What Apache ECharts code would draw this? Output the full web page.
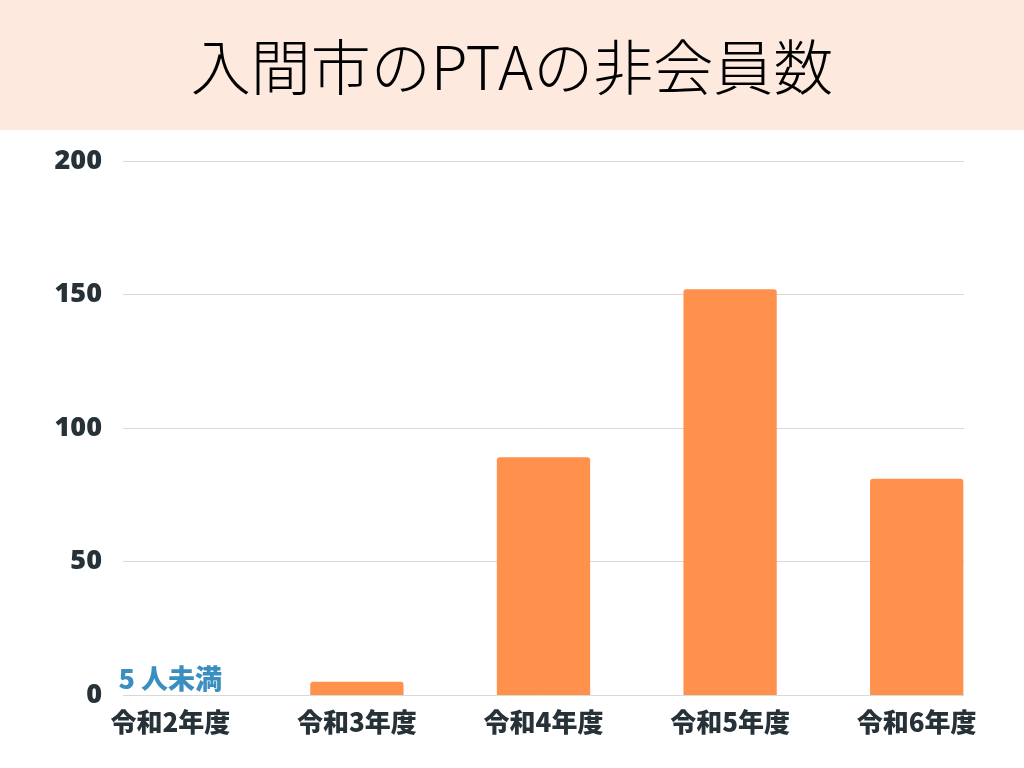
<!DOCTYPE html>
<html>
<head>
<meta charset="utf-8">
<title>入間市のPTAの非会員数</title>
<script src="https://cdn.jsdelivr.net/npm/echarts@6/dist/echarts.min.js"></script>
<style>
  html, body { margin: 0; padding: 0; background: #fff; }
  #chart { width: 1024px; height: 768px; }
</style>
</head>
<body>
<div id="chart"></div>
<script>
var categories = ["令和2年度", "令和3年度", "令和4年度", "令和5年度", "令和6年度"];
var values = [0, 5, 89, 152, 81];
var notes = ["5 人未満", "", "", "", ""];
var yTicks = [0, 50, 100, 150, 200];

var labelColor = "#263238";
var cjkFont = "'Noto Sans CJK JP', 'Noto Sans', sans-serif";

var barData = values.map(function (v, i) {
  if (!notes[i]) return v;
  return {
    value: v,
    label: {
      show: true,
      position: "top",
      distance: 3,
      formatter: notes[i],
      color: "#3a8fc0",
      fontSize: 27,
      fontWeight: 900,
      fontFamily: cjkFont,
    },
  };
});

var chart = echarts.init(document.getElementById("chart"), null, { renderer: "canvas" });

var option = {
  backgroundColor: "#ffffff",
  animation: false,
  graphic: [
    {
      type: "rect",
      z: -10,
      shape: { x: 0, y: 0, width: 1024, height: 130 },
      style: { fill: "#fee9df" },
    },
  ],
  title: {
    text: "入間市のPTAの非会員数",
    left: "center",
    top: 32,
    textStyle: {
      fontFamily: cjkFont,
      fontWeight: 300,
      fontSize: 60,
      color: "#000000",
    },
  },
  grid: [
    // bars and category labels
    { left: 77, right: 14, top: 161, bottom: 73 },
    // value grid lines and labels
    { left: 123, right: 60, top: 161, bottom: 73 },
  ],
  xAxis: [
    {
      type: "category",
      gridIndex: 0,
      data: categories,
      axisLine: { show: false },
      axisTick: { show: false },
      axisLabel: {
        margin: 14,
        color: labelColor,
        fontSize: 26,
        fontWeight: 900,
        fontFamily: cjkFont,
      },
    },
    {
      type: "category",
      gridIndex: 1,
      data: categories,
      show: false,
    },
  ],
  yAxis: [
    {
      type: "value",
      gridIndex: 0,
      min: 0,
      max: 200,
      interval: 50,
      show: false,
    },
    {
      type: "value",
      gridIndex: 1,
      min: yTicks[0],
      max: yTicks[yTicks.length - 1],
      interval: yTicks[1] - yTicks[0],
      axisLine: { show: false },
      axisTick: { show: false },
      splitLine: { lineStyle: { color: "#d9d9d9", width: 1 } },
      axisLabel: {
        margin: 21,
        color: labelColor,
        fontSize: 27,
        fontWeight: 800,
        fontFamily: "'Open Sans', 'Noto Sans', sans-serif",
      },
    },
  ],
  series: [
    {
      type: "bar",
      xAxisIndex: 0,
      yAxisIndex: 0,
      data: barData,
      barWidth: "50%",
      z: 5,
      itemStyle: {
        color: "#ff914d",
        borderRadius: [3, 3, 0, 0],
      },
    },
  ],
};

chart.setOption(option);
</script>
</body>
</html>
